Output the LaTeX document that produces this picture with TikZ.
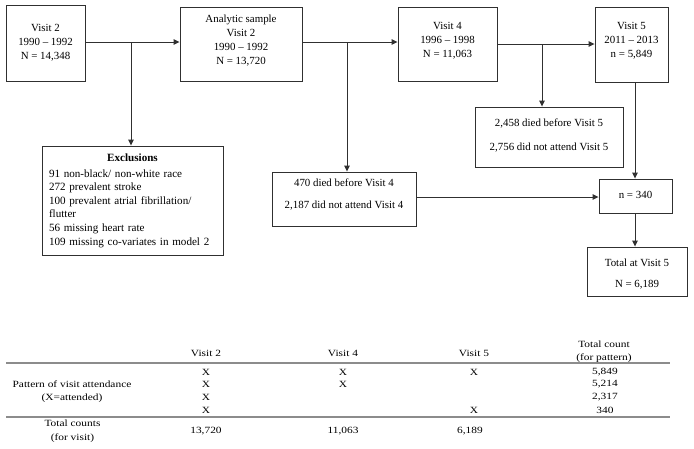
\documentclass[tikz,border=0pt]{standalone}
\usepackage{fontspec}
\setmainfont{Liberation Serif}
\newfontfamily\tabfont[FakeStretch=1.2]{Liberation Serif}
\usetikzlibrary{arrows.meta}
\definecolor{boxc}{HTML}{303030}
\definecolor{rulec}{HTML}{8C8C8C}
\newcommand\liftby[2]{\raisebox{#1}[\height][\depth]{\begin{tabular}{@{}c@{}}#2\end{tabular}}}
\begin{document}
\begin{tikzpicture}[x=1pt,y=-1pt,
  box/.style={draw=boxc, line width=0.9pt, inner sep=0pt, align=center, font=\fontsize{10.9}{14}\selectfont},
  conn/.style={draw=boxc, line width=0.9pt},
  arr/.style={conn, -{Triangle[length=6pt,width=5.5pt]}},
  tab/.style={font=\tabfont\fontsize{9.5}{12.8}\selectfont, align=center, inner sep=0pt},
  tabrule/.style={draw=rulec, line width=1.3pt}]
\fill[white] (0,0) rectangle (694,448);
\useasboundingbox (0,0) rectangle (694,448);

% flowchart boxes
\node[box, minimum width=79pt, minimum height=76pt] (v2) at (45.5,43) {Visit 2\\1990 -- 1992\\N = 14,348};
\node[box, minimum width=122pt, minimum height=74pt] (an) at (241,44) {\liftby{3pt}{Analytic sample\\Visit 2\\1990 -- 1992\\N = 13,720}};
\node[box, minimum width=99pt, minimum height=74pt] (v4) at (447.5,44) {\liftby{3.5pt}{Visit 4\\1996 -- 1998\\N = 11,063}};
\node[box, minimum width=73pt, minimum height=75pt] (v5) at (631.5,44.5) {\liftby{4pt}{Visit 5\\2011 -- 2013\\n = 5,849}};
\node[box, minimum width=181pt, minimum height=109pt, text width=167pt, align=left,
      font=\fontsize{11.1}{13.6}\selectfont] (ex) at (132.5,200.5)
  {\makebox[167pt]{\textbf{Exclusions}}\\[2.4pt]
   91 non-black/ non-white race\\
   272 prevalent stroke\\
   100 prevalent atrial fibrillation/\\
   flutter\\
   56 missing heart rate\\
   109 missing co-variates in model 2};
\node[box, minimum width=144pt, minimum height=54pt] (d4) at (344,199) {\liftby{4pt}{470 died before Visit 4\\[8pt]2,187 did not attend Visit 4}};
\node[box, minimum width=148pt, minimum height=60pt] (d5) at (549,137) {\liftby{1pt}{2,458 died before Visit 5\\[10pt]2,756 did not attend Visit 5}};
\node[box, minimum width=73pt, minimum height=34pt] (n340) at (635.5,196) {\liftby{0.5pt}{n = 340}};
\node[box, minimum width=100pt, minimum height=49pt] (tot) at (637,271.5) {\liftby{-2.5pt}{Total at Visit 5\\[7pt]N = 6,189}};

% connectors
\coordinate (b1) at (131,42);
\coordinate (b2) at (347,42);
\coordinate (b3) at (542,44);
\coordinate (b4) at (635,0);
\coordinate (b5) at (0,197);
\draw[arr] (v2.east |- b1) -- (b1 -| an.west);
\draw[arr] (b1) -- (b1 |- ex.north);
\draw[arr] (an.east |- b2) -- (b2 -| v4.west);
\draw[arr] (b2) -- (b2 |- d4.north);
\draw[arr] (v4.east |- b3) -- (b3 -| v5.west);
\draw[arr] (b3) -- (b3 |- d5.north);
\draw[arr] (b4 |- v5.south) -- (b4 |- n340.north);
\draw[arr] (b4 |- n340.south) -- (b4 |- tot.north);
\draw[arr] (d4.east |- b5) -- (b5 -| n340.west);

% table
\node[tab] (h2) at (206,353) {Visit 2};
\node[tab] (h4) at (343,353) {Visit 4};
\node[tab] (h5) at (474,353) {Visit 5};
\node[tab] (ht) at (604,351.5) {Total count\\(for pattern)};
\coordinate (rl1) at (6,363);
\coordinate (rr1) at (670,363);
\draw[tabrule] (rl1) -- (rr1);

\node[tab] (pl) at (72,391.5) {Pattern of visit attendance\\(X=attended)};
\node[tab] (x21) at (206,372) {X};
\node[tab] (x22) at (206,384.5) {X};
\node[tab] (x23) at (206,397.5) {X};
\node[tab] (x24) at (206,410.5) {X};
\node[tab] (x41) at (343,372) {X};
\node[tab] (x42) at (343,384.5) {X};
\node[tab] (x51) at (474,372) {X};
\node[tab] (x54) at (474,410.5) {X};
\node[tab] (t1) at (605,372) {5,849};
\node[tab] (t2) at (605,384.5) {5,214};
\node[tab] (t3) at (605,397.5) {2,317};
\node[tab] (t4) at (605,410.5) {340};

\coordinate (rl2) at (6,417);
\coordinate (rr2) at (670,417);
\draw[tabrule, line width=2pt] (rl2) -- (rr2);

\node[tab, font=\tabfont\fontsize{9.5}{14}\selectfont] (tc) at (72.5,431) {Total counts\\(for visit)};
\node[tab] (c2) at (206,431) {13,720};
\node[tab] (c4) at (343,431) {11,063};
\node[tab] (c5) at (470,431) {6,189};
\end{tikzpicture}
\end{document}
